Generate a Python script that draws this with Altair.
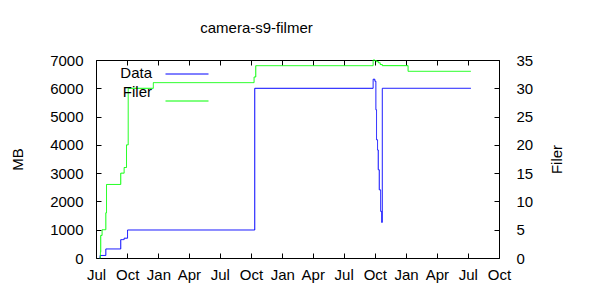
import altair as alt
import pandas as pd

# ---- values ----
data_dates = ["2009-07-12", "2009-07-13", "2009-07-30", "2009-09-12", "2009-09-22",
              "2009-10-02", "2010-10-12", "2011-09-26", "2011-10-01", "2011-10-04",
              "2011-10-06", "2011-10-09", "2011-10-11", "2011-10-14", "2011-10-18",
              "2011-10-21", "2011-10-23", "2012-07-10"]
data_mb = [0, 90, 320, 650, 700, 990, 6000, 6320, 6250, 5240, 4180, 3820, 3120,
           2410, 1650, 1260, 6000, 6000]

filer_dates = ["2009-07-12", "2009-07-14", "2009-07-15", "2009-07-19", "2009-07-30",
               "2009-08-01", "2009-09-12", "2009-09-22", "2009-09-29", "2009-10-04",
               "2009-12-17", "2010-10-10", "2010-10-15", "2011-09-26", "2011-10-01",
               "2011-10-06", "2011-10-12", "2011-10-17", "2011-10-23", "2012-01-07",
               "2012-07-10"]
filer_count = [0, 1, 4, 5, 8, 13, 15, 16, 20, 30, 31, 32, 34, 35, 34.9, 34.7, 34.5,
               34.2, 34, 33, 33]

series_names = ["Data", "Filer"]
series_colors = ["#0000ff", "#00ff00"]

tick_dates = [(2009, 7), (2009, 10), (2010, 1), (2010, 4), (2010, 7), (2010, 10),
              (2011, 1), (2011, 4), (2011, 7), (2011, 10), (2012, 1), (2012, 4),
              (2012, 7), (2012, 10)]
mb_ticks = [0, 1000, 2000, 3000, 4000, 5000, 6000, 7000]
filer_ticks = [0, 5, 10, 15, 20, 25, 30, 35]

FONT = "Liberation Sans"

df_data = pd.DataFrame({"date": pd.to_datetime(data_dates), "value": data_mb, "series": "Data"})
df_filer = pd.DataFrame({"date": pd.to_datetime(filer_dates), "value": filer_count, "series": "Filer"})

tick_vals = [alt.DateTime(year=y, month=m, date=1) for y, m in tick_dates]
x_scale = alt.Scale(domain=[tick_vals[0], tick_vals[-1]])
mb_scale = alt.Scale(domain=[0, 7000], nice=False)
filer_scale = alt.Scale(domain=[0, 35], nice=False)

# legend of line samples (no labels)
color = alt.Color(
    "series:N",
    scale=alt.Scale(domain=series_names, range=series_colors),
    legend=alt.Legend(
        orient="none", legendX=69, legendY=-8, title=None,
        symbolType="stroke", symbolSize=1849, symbolStrokeWidth=1, symbolOffset=0,
        labelExpr="''", rowPadding=-20,
    ),
)
# legend of labels only, right-aligned to the left of the samples
dash = alt.StrokeDash(
    "legend_label:N",
    scale=alt.Scale(range=[[1, 0], [1, 0]]),
    legend=alt.Legend(
        orient="none", legendX=41, legendY=5, title=None,
        symbolType="stroke", symbolSize=1, symbolOpacity=0, symbolStrokeWidth=0,
        labelAlign="right", labelOffset=0, labelFontSize=15, labelFont=FONT,
        labelColor="black", rowPadding=3,
    ),
)

tick_axis_common = dict(labels=False, domain=False, tickSize=5, offset=-5, grid=False,
                        tickColor="black", title=None)

# Data line with bottom labels and left labels
l1 = alt.Chart(df_data).transform_calculate(legend_label="datum.series").mark_line(
    interpolate="step-after", strokeWidth=1).encode(
    x=alt.X("date:T", scale=x_scale, title=None,
            axis=alt.Axis(orient="bottom", values=tick_vals, format="%b", tickSize=0,
                          domain=False, grid=False, labelPadding=9, labelFlush=False)),
    y=alt.Y("value:Q", scale=mb_scale, title="MB",
            axis=alt.Axis(orient="left", values=mb_ticks, format="d", tickSize=0,
                          domain=False, grid=False, labelPadding=13, titlePadding=24,
                          labelFlush=False)),
    color=color,
    strokeDash=dash,
)

# Filer line with right labels, top ticks
l2 = alt.Chart(df_filer).transform_calculate(legend_label="datum.series").mark_line(
    interpolate="step-after", strokeWidth=1).encode(
    x=alt.X("date:T", scale=x_scale, title=None,
            axis=alt.Axis(orient="top", values=tick_vals, **tick_axis_common)),
    y=alt.Y("value:Q", scale=filer_scale, title="Filer",
            axis=alt.Axis(orient="right", values=filer_ticks, format="d", tickSize=0,
                          domain=False, grid=False, labelPadding=17, titlePadding=32,
                          titleAngle=270, labelFlush=False)),
    color=color,
    strokeDash=dash,
)

# invisible layers carrying inward ticks
l3 = alt.Chart(df_data).mark_line(strokeOpacity=0).encode(
    x=alt.X("date:T", scale=x_scale, title=None,
            axis=alt.Axis(orient="bottom", values=tick_vals, **tick_axis_common)),
    y=alt.Y("value:Q", scale=mb_scale, title=None,
            axis=alt.Axis(orient="left", values=mb_ticks, **tick_axis_common)),
)
l4 = alt.Chart(df_filer).mark_line(strokeOpacity=0).encode(
    x=alt.X("date:T", scale=x_scale, title=None, axis=None),
    y=alt.Y("value:Q", scale=filer_scale, title=None,
            axis=alt.Axis(orient="right", values=filer_ticks, **tick_axis_common)),
)

chart = alt.layer(l1, l2, l3, l4).resolve_scale(y="independent").resolve_axis(
    x="independent", y="independent"
).properties(
    width=403, height=198,
    title=alt.TitleParams("camera-s9-filmer", fontSize=15, font=FONT, fontWeight="normal",
                          color="black", dx=-41, offset=16),
    autosize=alt.AutoSizeParams(type="none"),
    padding={"left": 96, "top": 60, "right": 101, "bottom": 42},
    background="white",
).configure_view(stroke="black", strokeWidth=1).configure_axis(
    labelFont=FONT, labelFontSize=15, labelColor="black", titleFont=FONT, titleFontSize=15,
    titleFontWeight="normal", titleColor="black",
)

chart.save("out.html", embed_options={"renderer": "svg", "actions": False})
